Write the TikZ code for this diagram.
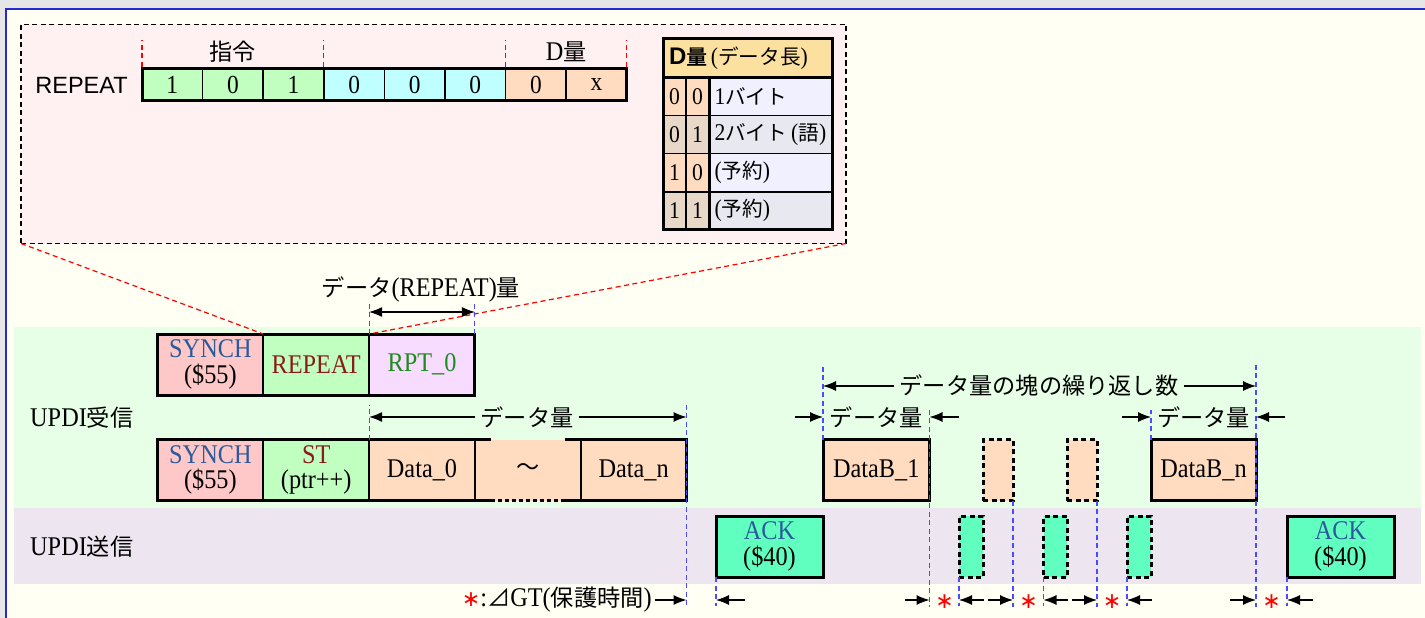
\documentclass[tikz,border=0pt]{standalone}
\usepackage{fontspec}
\setmainfont[FakeStretch=0.9]{Liberation Serif}
\newfontfamily\jp[Scale=0.86]{Noto Sans CJK JP}
\newfontfamily\jpb[Scale=0.86,FakeBold=1.5]{Noto Sans CJK JP}
\newfontfamily\gth{Liberation Sans}
\newfontfamily\dvs{DejaVu Sans}
\usetikzlibrary{arrows.meta, positioning, calc}

\definecolor{cGray}{HTML}{E6E6E6}
\definecolor{cLine}{HTML}{2828D0}
\definecolor{cIvory}{HTML}{FFFFF4}
\definecolor{cPinkBox}{HTML}{FFF0F2}
\definecolor{cBandG}{HTML}{E6FFE6}
\definecolor{cBandL}{HTML}{EDE6F0}
\definecolor{cSyn}{HTML}{FFC8C8}
\definecolor{cGrn}{HTML}{C0FFC0}
\definecolor{cCyan}{HTML}{C0FFFF}
\definecolor{cPeach}{HTML}{FFDCC0}
\definecolor{cRpt}{HTML}{F8DCFF}
\definecolor{cAck}{HTML}{60FFC0}
\definecolor{cHead}{HTML}{FCE0A0}
\definecolor{cTan}{HTML}{E8D8C8}
\definecolor{cLav}{HTML}{F0F0FF}
\definecolor{cLavB}{HTML}{E8E8F0}
\definecolor{tBlue}{HTML}{2A5A9A}
\definecolor{tRed}{HTML}{8B1A1A}
\definecolor{tGrn}{HTML}{1E8B1E}
\definecolor{cGuide}{HTML}{4A4AFF}

\newcommand{\bigtxt}{\fontsize{27}{25.7}\selectfont}
\newcommand{\ttxt}{\fontsize{24}{25}\selectfont}
\newcommand{\J}[1]{{\jp #1}}
\newcommand{\gstar}{{\dvs\fontsize{22}{22}\selectfont\textcolor{red}{∗}}}

\begin{document}
\begin{tikzpicture}[x=1pt, y=-1pt,
    box/.style={draw, line width=2pt, minimum width=105.8pt, minimum height=61pt, inner sep=0pt, outer sep=0pt, align=center, font=\bigtxt},
    lone/.style={box, line width=3pt},
    stub/.style={box, line width=3pt, dash pattern=on 5pt off 3.5pt, minimum width=#1},
    bit/.style={draw, line width=1.5pt, minimum width=60.6pt, minimum height=31pt, inner sep=0pt, outer sep=0pt, font=\fontsize{26}{26}\selectfont},
    tb/.style={draw, line width=1.5pt, minimum width=23pt, minimum height=38.2pt, inner sep=0pt, outer sep=0pt, font=\ttxt},
    tt/.style={tb, minimum width=123pt, text width=112pt, align=left},
    frame/.style={line width=3pt},
    guide/.style={draw=cGuide, line width=1.1pt, dash pattern=on 5pt off 3.5pt},
    zoomln/.style={red, line width=1.2pt, dash pattern=on 5pt off 3.5pt},
    arr/.style={-{Latex[length=13pt,width=10pt]}, line width=1.1pt},
    darr/.style={{Latex[length=13pt,width=10pt]}-{Latex[length=13pt,width=10pt]}, line width=1.1pt},
    dlab/.style={font=\bigtxt, inner sep=5pt},
    gt/.style={inner sep=0pt}
  ]
    \useasboundingbox (0,0) rectangle (1425,618);
    \fill[cGray] (0,0) rectangle (1425,618);
    \fill[cIvory] (6,9) rectangle (1425,618);
    \draw[cLine, line width=2pt] (6,618) -- (6,9) -- (1425,9);
    \fill[cBandG] (14,327) rectangle (1421,507.5);
    \fill[cBandL] (14,507.5) rectangle (1421,584);

    % REPEAT instruction detail
    \node[draw, fill=cPinkBox, line width=1.1pt, dash pattern=on 5pt off 3.5pt, minimum width=825pt, minimum height=219pt, inner sep=0pt, outer sep=0pt] (zoombox) at (433.5,134) {};
    \node[font=\gth\fontsize{23.5}{24}\selectfont, inner sep=0pt] (lrep) at (81.5,85) {REPEAT};
    \node[bit, fill=cGrn] (b1) at (172.3,84.5) {1};
    \node[bit, fill=cGrn, right=0pt of b1] (b2) {0};
    \node[bit, fill=cGrn, right=0pt of b2] (b3) {1};
    \node[bit, fill=cCyan, right=0pt of b3] (b4) {0};
    \node[bit, fill=cCyan, right=0pt of b4] (b5) {0};
    \node[bit, fill=cCyan, right=0pt of b5] (b6) {0};
    \node[bit, fill=cPeach, right=0pt of b6] (b7) {0};
    \node[bit, fill=cPeach, right=0pt of b7] (b8) {x};
    \draw[frame] (b1.north west) rectangle (b8.south east);
    \draw[zoomln] (b1.north west) ++(0,-2) -- ++(0,-27);
    \draw[zoomln] (b4.north west) ++(0,-2) -- ++(0,-27);
    \draw[zoomln] (b7.north west) ++(0,-2) -- ++(0,-27);
    \draw[zoomln] (b8.north east) ++(0,-2) -- ++(0,-27);
    \node[font=\bigtxt] (lcmd) at ($(b1.north west)!0.5!(b4.north west)+(0,-17)$) {\J{指令}};
    \node[font=\bigtxt] (ldq) at ($(b7.north west)!0.5!(b8.north east)+(0,-17)$) {D\J{量}};

    \node[draw, fill=cHead, line width=1.5pt, minimum width=169pt, minimum height=38.3pt, inner sep=0pt, outer sep=0pt, text width=157pt, align=left, font=\fontsize{24}{25}\selectfont] (th) at (747.5,58) {{\gth\bfseries D}{\jpb 量}\,(\J{データ長})};
    \node[tb, fill=cPeach, anchor=north west] (r1a) at (th.south west) {0};
    \node[tb, fill=cPeach, right=0pt of r1a] (r1b) {0};
    \node[tt, fill=cLav, right=0pt of r1b] (r1c) {1\J{バイト}};
    \node[tb, fill=cTan, anchor=north west] (r2a) at (r1a.south west) {0};
    \node[tb, fill=cTan, right=0pt of r2a] (r2b) {1};
    \node[tt, fill=cLavB, right=0pt of r2b] (r2c) {2\J{バイト}\,(\J{語})};
    \node[tb, fill=cPeach, anchor=north west] (r3a) at (r2a.south west) {1};
    \node[tb, fill=cPeach, right=0pt of r3a] (r3b) {0};
    \node[tt, fill=cLav, right=0pt of r3b] (r3c) {(\J{予約})};
    \node[tb, fill=cTan, anchor=north west] (r4a) at (r3a.south west) {1};
    \node[tb, fill=cTan, right=0pt of r4a] (r4b) {1};
    \node[tt, fill=cLavB, right=0pt of r4b] (r4c) {(\J{予約})};
    \draw[frame] (th.north west) rectangle (r4c.south east);
    \draw[frame] (th.south west) -- (th.south east);
    \draw[frame] (r1c.north west) -- (r4c.south west);

    % frames
    \node[font=\bigtxt, anchor=west, inner sep=0pt] (rx) at (30,418) {UPDI\J{受信}};
    \node[font=\bigtxt, anchor=west, inner sep=0pt] (tx) at (30,547) {UPDI\J{送信}};

    \node[box, fill=cSyn] (syn1) at (210.4,364.5) {\textcolor{tBlue}{SYNCH}\\(\$55)};
    \node[box, fill=cGrn, right=0pt of syn1] (rep) {\textcolor{tRed}{REPEAT}};
    \node[box, fill=cRpt, right=0pt of rep] (rpt) {\textcolor{tGrn}{RPT\_0}};
    \draw[frame] (syn1.north west) rectangle (rpt.south east);
    \draw[zoomln] (zoombox.south west) -- (syn1.north east);
    \draw[zoomln] (zoombox.south east) -- (rep.north east);

    \node[box, fill=cSyn] (syn2) at (210.4,470) {\textcolor{tBlue}{SYNCH}\\(\$55)};
    \node[box, fill=cGrn, right=0pt of syn2] (st) {\textcolor{tRed}{ST}\\(ptr++)};
    \node[box, fill=cPeach, right=0pt of st] (d0) {Data\_0};
    \node[box, draw=none, fill=cPeach, right=0pt of d0] (tl) {\J{～}};
    \node[box, fill=cPeach, right=0pt of tl] (dn) {Data\_n};
    \draw[line width=2pt] (tl.north west) -- (tl.south west) (tl.north east) -- (tl.south east);
    \draw[frame] ($(tl.north west)+(16,0)$) -| (syn2.south west) -- ($(tl.south west)+(16,0)$);
    \draw[frame] ($(tl.north east)+(-16,0)$) -| (dn.south east) -- ($(tl.south east)+(-16,0)$);
    \draw[frame, dash pattern=on 4pt off 3pt] ($(tl.south west)+(16,0)$) -- ($(tl.south east)+(-16,0)$);

    \node[lone, fill=cPeach, minimum width=106.5pt] (db1) at (876.25,470) {DataB\_1};
    \node[stub=30pt, fill=cPeach] (p1) at (998,470) {};
    \node[stub=30pt, fill=cPeach] (p2) at (1082,470) {};
    \node[lone, fill=cPeach, minimum width=105pt] (dbn) at (1203.5,470) {DataB\_n};

    \node[lone, fill=cAck, minimum width=107pt] (ack1) at (769.5,546.5) {\textcolor{tBlue}{ACK}\\(\$40)};
    \node[stub=24pt, fill=cAck] (g1) at (971,546.5) {};
    \node[stub=23.5pt, fill=cAck] (g2) at (1055.25,546.5) {};
    \node[stub=24pt, fill=cAck] (g3) at (1139,546.5) {};
    \node[lone, fill=cAck, minimum width=107pt] (ack2) at (1340.5,546.5) {\textcolor{tBlue}{ACK}\\(\$40)};

    % guides
    \draw[guide] (rpt.north west) -- ++(0,-31);
    \draw[guide] (rpt.north east) -- ++(0,-31);
    \draw[guide] (d0.north west) -- ++(0,-35);
    \draw[guide] ($(dn.north east)+(0,-35)$) -- ($(dn.south east)+(0,106)$);
    \draw[guide] (db1.north west) -- ++(0,-75);
    \draw[guide] ($(db1.north east)+(0,-30)$) -- ($(db1.south east)+(0,106)$);
    \draw[guide] (dbn.north west) -- ++(0,-30);
    \draw[guide] ($(dbn.north east)+(0,-75)$) -- ($(dbn.south east)+(0,106)$);
    \draw[guide] (p1.south east) -- ++(0,106);
    \draw[guide] (p2.south east) -- ++(0,106);
    \draw[guide] (g1.south west) -- ++(0,29);
    \draw[guide] (g2.south west) -- ++(0,29);
    \draw[guide] (g3.south west) -- ++(0,29);
    \draw[guide] (ack1.south west) -- ++(0,29);
    \draw[guide] (ack2.south west) -- ++(0,29);

    % sizes
    \node[dlab] (lrpt) at (421,289) {\J{データ}(REPEAT)\J{量}};
    \coordinate (ra) at ($(rpt.north west)+(0,-22)$);
    \coordinate (rb) at ($(rpt.north east)+(0,-22)$);
    \draw[darr] (ra) -- (rb);

    \node[dlab] (lq) at (527,417) {\J{データ量}};
    \draw[arr] (lq.west) -- (lq.west -| d0.north west);
    \draw[arr] (lq.east) -- (lq.east -| dn.north east);

    \node[dlab] (lblk) at (1039,386) {\J{データ量の塊の繰り返し数}};
    \draw[arr] (lblk.west) -- (lblk.west -| db1.north west);
    \draw[arr] (lblk.east) -- (lblk.east -| dbn.north east);

    \node[dlab] (lq1) at (876.25,417) {\J{データ量}};
    \coordinate (q1a) at (795,417);
    \coordinate (q1b) at (959,417);
    \draw[arr] (q1a) -- (q1a -| db1.north west);
    \draw[arr] (q1b) -- (q1b -| db1.north east);
    \node[dlab] (lq2) at (1203.5,417) {\J{データ量}};
    \coordinate (q2a) at (1122,417);
    \coordinate (q2b) at (1285,417);
    \draw[arr] (q2a) -- (q2a -| dbn.north west);
    \draw[arr] (q2b) -- (q2b -| dbn.north east);

    % guard times
    \node[font=\bigtxt, anchor=east, inner sep=3pt] (leg) at (655,600) {\gstar:\J{⊿}GT(\J{保護時間})};
    \draw[arr] (leg.east) -- (leg.east -| dn.south east);
    \coordinate (w0) at (745,600);
    \draw[arr] (w0) -- (w0 -| ack1.south west);
    \coordinate (w1a) at (905,600);
    \coordinate (w1b) at (984,600);
    \draw[arr] (w1a) -- (w1a -| db1.south east);
    \node[gt] (s1) at (944.5,602) {\gstar};
    \draw[arr] (w1b) -- (w1b -| g1.south west);
    \coordinate (w2a) at (988,600);
    \coordinate (w2b) at (1068,600);
    \draw[arr] (w2a) -- (w2a -| p1.south east);
    \node[gt] (s2) at (1028.5,602) {\gstar};
    \draw[arr] (w2b) -- (w2b -| g2.south west);
    \coordinate (w3a) at (1072,600);
    \coordinate (w3b) at (1152,600);
    \draw[arr] (w3a) -- (w3a -| p2.south east);
    \node[gt] (s3) at (1112,602) {\gstar};
    \draw[arr] (w3b) -- (w3b -| g3.south west);
    \coordinate (w4a) at (1230,600);
    \coordinate (w4b) at (1313,600);
    \draw[arr] (w4a) -- (w4a -| dbn.south east);
    \node[gt] (s4) at (1271.5,602) {\gstar};
    \draw[arr] (w4b) -- (w4b -| ack2.south west);
\end{tikzpicture}
\end{document}
